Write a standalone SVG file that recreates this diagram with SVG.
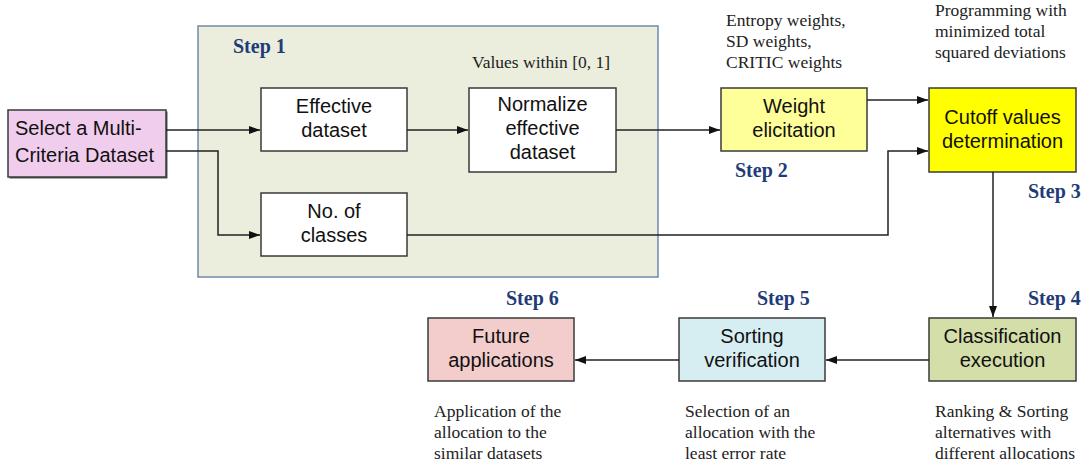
<svg xmlns="http://www.w3.org/2000/svg" width="1091" height="470" viewBox="0 0 1091 470">
<style>
.box{stroke:#3a3a3a;stroke-width:1.5}
.bt{font-family:"Liberation Sans",Arial,sans-serif;font-size:20px;fill:#111;text-anchor:middle}
.note{font-family:"Liberation Serif","Times New Roman",serif;font-size:17.5px;fill:#222}
.step{font-family:"Liberation Serif","Times New Roman",serif;font-size:20px;font-weight:bold;fill:#1f3c78}
.con{fill:none;stroke:#222;stroke-width:1.5}
</style>
<defs>
<marker id="ah" markerWidth="12" markerHeight="10" refX="11" refY="5" orient="auto" markerUnits="userSpaceOnUse">
<path d="M0,1 L11,5 L0,9 Z" fill="#111"/>
</marker>
</defs>
<rect width="1091" height="470" fill="#fff"/>

<g id="step1-group">
<rect x="198" y="26" width="460" height="251" fill="#ebeedc" stroke="#7189ab" stroke-width="1.5"/>
<text class="step" x="233" y="53">Step 1</text>
<text class="note" x="472" y="68">Values within [0, 1]</text>
</g>

<g id="select">
<rect x="9.5" y="111.5" width="158" height="67" fill="#555"/>
<rect class="box" x="8" y="110" width="158" height="67" fill="#f0cdec"/>
<text class="bt" x="15" y="135" style="text-anchor:start">Select a Multi-</text>
<text class="bt" x="15" y="162" style="text-anchor:start">Criteria Dataset</text>
</g>

<g id="effective">
<rect class="box" x="261" y="88" width="146" height="63" fill="#fff"/>
<text class="bt" x="334" y="113">Effective</text>
<text class="bt" x="334" y="137">dataset</text>
</g>

<g id="classes">
<rect class="box" x="261" y="193" width="146" height="63" fill="#fff"/>
<text class="bt" x="334" y="218">No. of</text>
<text class="bt" x="334" y="242">classes</text>
</g>

<g id="normalize">
<rect class="box" x="469" y="88" width="147" height="84" fill="#fff"/>
<text class="bt" x="542.5" y="111">Normalize</text>
<text class="bt" x="542.5" y="135">effective</text>
<text class="bt" x="542.5" y="159">dataset</text>
</g>

<g id="weight">
<rect class="box" x="721" y="88" width="146" height="63" fill="#ffff99"/>
<text class="bt" x="794" y="113">Weight</text>
<text class="bt" x="794" y="137">elicitation</text>
<text class="note" x="726" y="26">Entropy weights,</text>
<text class="note" x="726" y="47">SD weights,</text>
<text class="note" x="726" y="68">CRITIC weights</text>
<text class="step" x="735" y="177">Step 2</text>
</g>

<g id="cutoff">
<rect class="box" x="929" y="88" width="147" height="84" fill="#ffff00"/>
<text class="bt" x="1002.5" y="124">Cutoff values</text>
<text class="bt" x="1002.5" y="148">determination</text>
<text class="note" x="935" y="16">Programming with</text>
<text class="note" x="935" y="37">minimized total</text>
<text class="note" x="935" y="58">squared deviations</text>
<text class="step" x="1028" y="198">Step 3</text>
</g>

<g id="classification">
<rect class="box" x="929" y="318" width="147" height="63" fill="#d3dea8"/>
<text class="bt" x="1002.5" y="343">Classification</text>
<text class="bt" x="1002.5" y="367">execution</text>
<text class="step" x="1028" y="305">Step 4</text>
<text class="note" x="935" y="417">Ranking &amp; Sorting</text>
<text class="note" x="935" y="438">alternatives with</text>
<text class="note" x="935" y="459">different allocations</text>
</g>

<g id="sorting">
<rect class="box" x="679" y="318" width="146" height="63" fill="#d6edf2"/>
<text class="bt" x="752" y="343">Sorting</text>
<text class="bt" x="752" y="367">verification</text>
<text class="step" x="757" y="305">Step 5</text>
<text class="note" x="685" y="417">Selection of an</text>
<text class="note" x="685" y="438">allocation with the</text>
<text class="note" x="685" y="459">least error rate</text>
</g>

<g id="future">
<rect class="box" x="428" y="318" width="146" height="63" fill="#f2cdcc"/>
<text class="bt" x="501" y="343">Future</text>
<text class="bt" x="501" y="367">applications</text>
<text class="step" x="506" y="305">Step 6</text>
<text class="note" x="434" y="417">Application of the</text>
<text class="note" x="434" y="438">allocation to the</text>
<text class="note" x="434" y="459">similar datasets</text>
</g>

<g id="connectors">
<path class="con" d="M166,130 H260" marker-end="url(#ah)"/>
<path class="con" d="M166,151 H218 V235 H260" marker-end="url(#ah)"/>
<path class="con" d="M407,130 H468" marker-end="url(#ah)"/>
<path class="con" d="M616,130 H720" marker-end="url(#ah)"/>
<path class="con" d="M867,100 H928" marker-end="url(#ah)"/>
<path class="con" d="M407,235 H888 V151 H928" marker-end="url(#ah)"/>
<path class="con" d="M993,172 V317" marker-end="url(#ah)"/>
<path class="con" d="M929,360 H826" marker-end="url(#ah)"/>
<path class="con" d="M679,360 H575" marker-end="url(#ah)"/>
</g>
</svg>
